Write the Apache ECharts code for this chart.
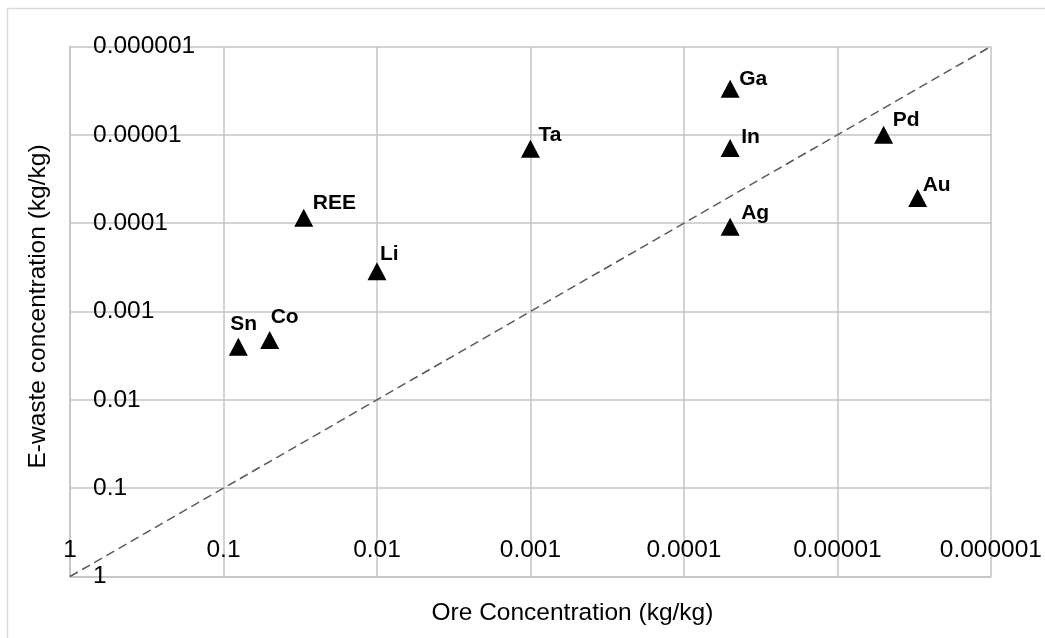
<!DOCTYPE html>
<html lang="en">

<head>
    <meta charset="UTF-8">
    <title>Ore vs E-waste concentration</title>
    <style>
        html, body { margin: 0; padding: 0; background: #fff; }
        #main { width: 1045px; height: 638px; }
    </style>
</head>

<body>
    <div id="main"></div>
</body>
<script src="https://cdn.jsdelivr.net/npm/echarts@6.0.0/dist/echarts.min.js"></script>
<script>
    // data
    const elements = ['Sn', 'Co', 'REE', 'Li', 'Ta', 'Ga', 'In', 'Ag', 'Pd', 'Au'];
    const oreConc = [0.08, 0.05, 0.03, 0.01, 0.001, 0.00005, 0.00005, 0.00005, 0.000005, 0.000003];
    const ewasteConc = [0.0025, 0.0021, 0.000087, 0.00035, 0.0000144, 0.000003, 0.0000141, 0.00011, 0.00001, 0.000052];
    const tickLabels = ['1', '0.1', '0.01', '0.001', '0.0001', '0.00001', '0.000001'];
    const parityLine = [1, 0.000001];

    // where each element's label sits relative to its marker
    const labelShift = {
        Sn: [-8, -22], Co: [1, -23], REE: [9, -15], Li: [3, -17], Ta: [8, -14],
        Ga: [9, -9], In: [11, -11], Ag: [11, -14], Pd: [9, -15], Au: [5, -13]
    };

    const font = "'Liberation Sans', Arial, sans-serif";
    const gridColor = '#c4c4c4';

    function tickText(v) {
        const t = tickLabels[Math.round(-Math.log10(v))];
        return t === undefined ? '' : t;
    }

    function logAxis(extra) {
        return Object.assign({
            type: 'log',
            logBase: 10,
            min: 0.000001,
            max: 1,
            interval: 1,
            inverse: true,
            axisLine: { show: true, lineStyle: { color: gridColor, width: 1.5 } },
            axisTick: { show: false },
            splitLine: { show: true, lineStyle: { color: gridColor, width: 1.5 } },
            nameTextStyle: { fontFamily: font, fontSize: 24, color: '#000' }
        }, extra);
    }

    const chart = echarts.init(document.getElementById('main'));
    chart.setOption({
        animation: false,
        graphic: [{
            type: 'rect',
            shape: { x: 7.5, y: 8.5, width: 1100, height: 700 },
            style: { fill: 'none', stroke: '#d9d9d9', lineWidth: 1.5 },
            silent: true
        }],
        grid: { left: 70, top: 46.5, width: 922, height: 530 },
        xAxis: logAxis({
            name: 'Ore Concentration (kg/kg)',
            nameLocation: 'middle',
            nameGap: 24,
            nameTextStyle: { fontFamily: font, fontSize: 24.5, color: '#000', padding: [0, 0, 0, 84] },
            axisLabel: {
                inside: true, margin: 14, formatter: tickText,
                fontFamily: font, fontSize: 24.5, color: '#000'
            }
        }),
        yAxis: logAxis({
            name: 'E-waste concentration (kg/kg)',
            nameLocation: 'middle',
            nameGap: 19,
            nameTextStyle: { fontFamily: font, fontSize: 24.5, color: '#000', padding: [0, 0, 0, 10] },
            axisLabel: {
                inside: true, margin: 23, formatter: tickText,
                fontFamily: font, fontSize: 24.5, color: '#000'
            }
        }),
        series: [
            {
                type: 'line',
                data: [[parityLine[0], parityLine[0]], [parityLine[1], parityLine[1]]],
                symbol: 'none',
                silent: true,
                lineStyle: { color: '#5a5a5a', width: 1.5, type: [9, 5] }
            },
            {
                type: 'scatter',
                symbol: 'triangle',
                symbolSize: [19, 18],
                itemStyle: { color: '#000', opacity: 1 },
                label: {
                    show: true,
                    formatter: '{b}',
                    position: 'inside',
                    align: 'left',
                    verticalAlign: 'middle',
                    fontFamily: font,
                    fontWeight: 'bold',
                    fontSize: 21,
                    color: '#000'
                },
                data: elements.map((n, i) => ({
                    name: n,
                    value: [oreConc[i], ewasteConc[i]],
                    label: { offset: labelShift[n] }
                }))
            }
        ]
    });
</script>

</html>
